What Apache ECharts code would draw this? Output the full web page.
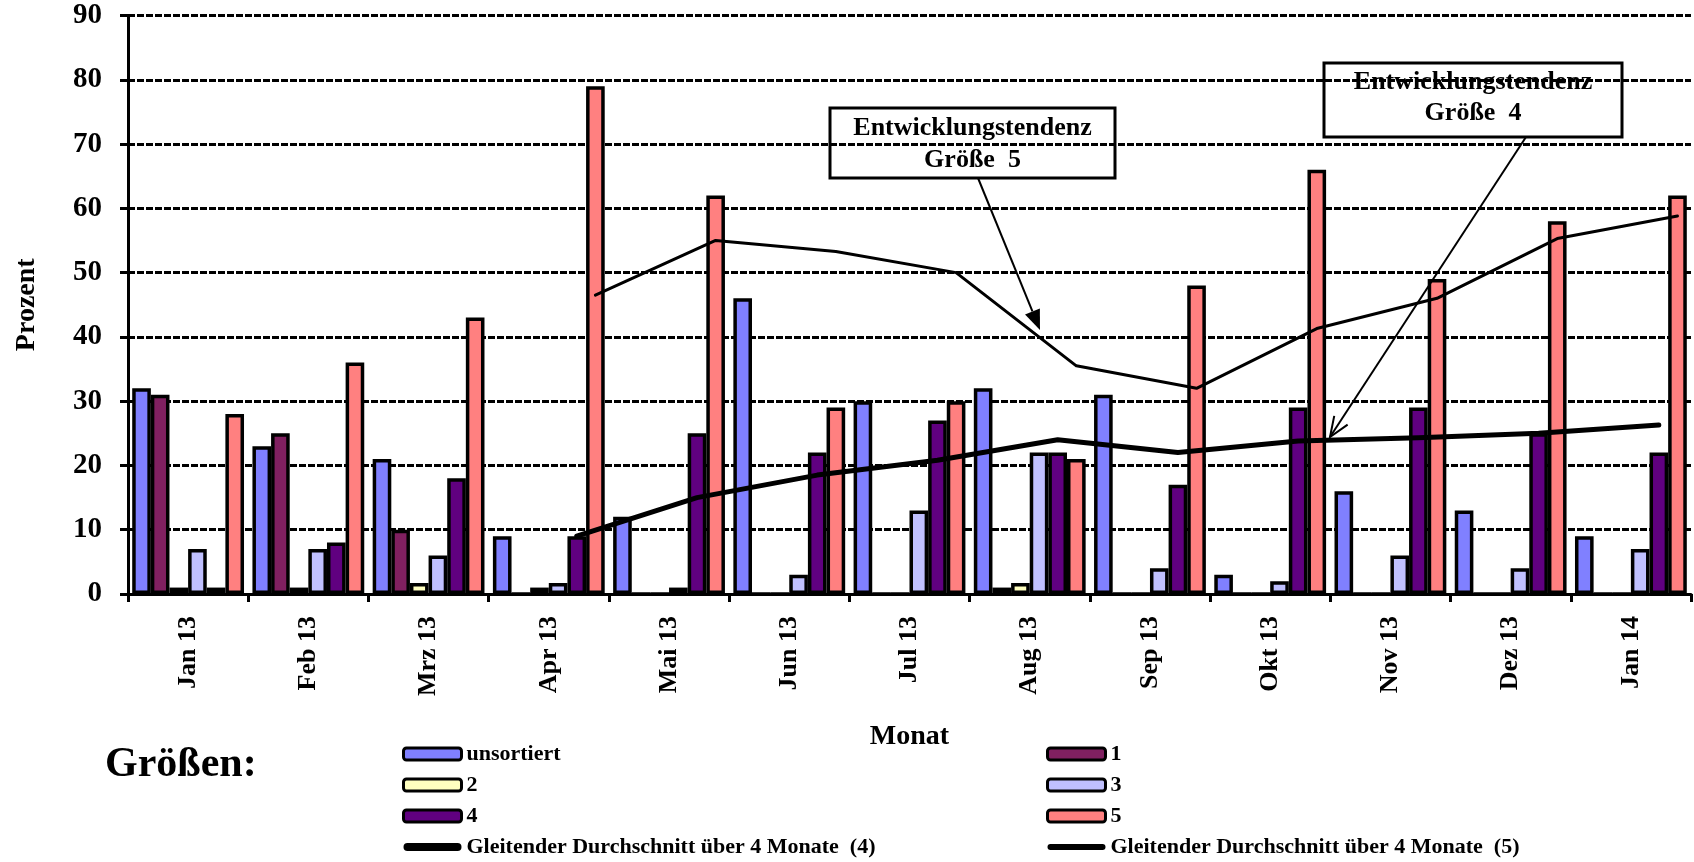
<!DOCTYPE html>
<html>
<head>
<meta charset="utf-8">
<script src="https://cdn.jsdelivr.net/npm/echarts@6/dist/echarts.min.js"></script>
<style>
html,body{margin:0;padding:0;background:#fff;}
#chart{width:1694px;height:862px;}
</style>
</head>
<body>
<div id="chart"></div>
<script>
// ---- data ----
const months = ['Jan 13','Feb 13','Mrz 13','Apr 13','Mai 13','Jun 13','Jul 13','Aug 13','Sep 13','Okt 13','Nov 13','Dez 13','Jan 14'];
const unsortiert = [32, 23, 21, 9, 12, 46, 30, 32, 31, 3, 16, 13, 9];
const groesse1   = [31, 25, 10, 0, 0, 0, 0, 1, 0, 0, 0, 0, 0];
const groesse2   = [1, 1, 1.7, 1, 0, 0, 0, 1.7, 0, 0, 0, 0, 0];
const groesse3   = [7, 7, 6, 1.7, 1, 3, 13, 22, 4, 2, 6, 4, 7];
const groesse4   = [1, 8, 18, 9, 25, 22, 27, 22, 17, 29, 29, 25, 22];
const groesse5   = [28, 36, 43, 79, 62, 29, 30, 21, 48, 66, 49, 58, 62];
const gleitend4  = [null, null, null, 9, 15, 18.5, 20.8, 24, 22, 23.8, 24.3, 25, 26.3];
const gleitend5  = [null, null, null, 46.5, 55, 53.3, 50, 35.5, 32, 41.3, 46, 55.3, 58.8];
const yTicks = {min: 0, max: 90, interval: 10};

const nameMA4 = 'Gleitender Durchschnitt über 4 Monate  (4)';
const nameMA5 = 'Gleitender Durchschnitt über 4 Monate  (5)';

// ---- layout ----
const FONT = "'Liberation Serif','Times New Roman',serif";
const plotLeft = 128, plotTop = 15.5, plotW = 1563, plotH = 578.5;
const catGap = 0.07;
const catW = plotW / months.length;
const barW = catW * (1 - catGap) / 6;
const off4 = 1.5 * barW;   // centre of the 5th bar of a group
const off5 = 2.5 * barW;   // centre of the 6th bar of a group

const colors = ['#8080FF', '#802060', '#FFFFC0', '#C0C0FF', '#600080', '#FF8080'];

function barSeries(name, data, color) {
  return {
    name: name, type: 'bar', data: data,
    xAxisIndex: 0, yAxisIndex: 0,
    barCategoryGap: (catGap * 100) + '%', barGap: '0%',
    itemStyle: {color: color, borderColor: '#000', borderWidth: 3.5},
    emphasis: {disabled: true}
  };
}

const hiddenX = (gi) => ({type: 'category', gridIndex: gi, data: months, show: false, boundaryGap: true});
const hiddenY = (gi) => ({type: 'value', gridIndex: gi, min: yTicks.min, max: yTicks.max, interval: yTicks.interval, show: false});

const chart = echarts.init(document.getElementById('chart'), null, {renderer: 'canvas'});

function arrowGraphics(x0, y0, x1, y1, filled) {
  const dx = x1 - x0, dy = y1 - y0, L = Math.hypot(dx, dy);
  const ux = dx / L, uy = dy / L, px = -uy, py = ux;
  const hl = 20, hw = 8;
  const bx = x1 - ux * hl, by = y1 - uy * hl;
  const out = [];
  out.push({type: 'line', shape: {x1: x0, y1: y0, x2: filled ? bx : x1, y2: filled ? by : y1},
            style: {stroke: '#000', lineWidth: 2}, z: 100});
  if (filled) {
    out.push({type: 'polygon', shape: {points: [[x1, y1], [bx + px * hw, by + py * hw], [bx - px * hw, by - py * hw]]},
              style: {fill: '#000'}, z: 100});
  } else {
    out.push({type: 'polyline', shape: {points: [[bx + px * hw, by + py * hw], [x1, y1], [bx - px * hw, by - py * hw]]},
              style: {stroke: '#000', lineWidth: 2, fill: null}, z: 100});
  }
  return out;
}

function barIcon(h) {
  const r = h / 2, w = 58;
  return 'path://M' + r + ',0 L' + (w - r) + ',0 A' + r + ',' + r + ' 0 0 1 ' + (w - r) + ',' + h +
         ' L' + r + ',' + h + ' A' + r + ',' + r + ' 0 0 1 ' + r + ',0 Z';
}

const legendBase = {
  orient: 'vertical', itemWidth: 58, itemHeight: 12, itemGap: 9, padding: 0,
  selectedMode: false,
  textStyle: {fontSize: 22, fontWeight: 'bold', fontFamily: FONT, color: '#000', lineHeight: 21},
  itemStyle: {borderColor: '#000', borderWidth: 3}
};

const option = {
  backgroundColor: '#fff',
  animation: false,
  textStyle: {fontFamily: FONT, fontWeight: 'bold', color: '#000'},
  grid: [
    {left: plotLeft, top: plotTop, width: plotW, height: plotH, outerBoundsMode: 'none', containLabel: false},
    {left: plotLeft + off4, top: plotTop, width: plotW, height: plotH, outerBoundsMode: 'none', containLabel: false},
    {left: plotLeft + off5, top: plotTop, width: plotW, height: plotH, outerBoundsMode: 'none', containLabel: false}
  ],
  xAxis: [
    {
      type: 'category', gridIndex: 0, data: months, boundaryGap: true,
      axisLine: {show: true, lineStyle: {color: '#000', width: 3}},
      axisTick: {show: true, length: 8, lineStyle: {color: '#000', width: 3}},
      axisLabel: {rotate: 90, fontSize: 26, fontWeight: 'bold', fontFamily: FONT, color: '#000', margin: 22},
      name: 'Monat', nameLocation: 'middle', nameGap: 129,
      nameTextStyle: {fontSize: 28, fontWeight: 'bold', fontFamily: FONT, color: '#000'}
    },
    hiddenX(1), hiddenX(2)
  ],
  yAxis: [
    {
      type: 'value', gridIndex: 0, min: yTicks.min, max: yTicks.max, interval: yTicks.interval,
      axisLine: {show: true, lineStyle: {color: '#000', width: 3}},
      axisTick: {show: true, length: 8, lineStyle: {color: '#000', width: 3}},
      axisLabel: {fontSize: 29, fontWeight: 'bold', fontFamily: FONT, color: '#000', margin: 26},
      splitLine: {show: true, lineStyle: {color: '#000', width: 3, type: [7, 2]}},
      name: 'Prozent', nameLocation: 'middle', nameGap: 87, nameRotate: 90,
      nameTextStyle: {fontSize: 28, fontWeight: 'bold', fontFamily: FONT, color: '#000'}
    },
    hiddenY(1), hiddenY(2)
  ],
  legend: [
    Object.assign({}, legendBase, {
      left: 402, top: 743,
      data: [
        {name: 'unsortiert', icon: 'roundRect'},
        {name: '2', icon: 'roundRect'},
        {name: '4', icon: 'roundRect'},
        {name: nameMA4, icon: barIcon(8), itemStyle: {color: '#000', borderWidth: 0}}
      ]
    }),
    Object.assign({}, legendBase, {
      left: 1046, top: 743,
      data: [
        {name: '1', icon: 'roundRect'},
        {name: '3', icon: 'roundRect'},
        {name: '5', icon: 'roundRect'},
        {name: nameMA5, icon: barIcon(6), itemStyle: {color: '#000', borderWidth: 0}}
      ]
    })
  ],
  series: [
    barSeries('unsortiert', unsortiert, colors[0]),
    barSeries('1', groesse1, colors[1]),
    barSeries('2', groesse2, colors[2]),
    barSeries('3', groesse3, colors[3]),
    barSeries('4', groesse4, colors[4]),
    barSeries('5', groesse5, colors[5]),
    {
      name: nameMA4, type: 'line', data: gleitend4, xAxisIndex: 1, yAxisIndex: 1,
      symbol: 'none', connectNulls: false, z: 5,
      itemStyle: {color: '#000'},
      lineStyle: {color: '#000', width: 5, cap: 'round', join: 'round'},
      emphasis: {disabled: true}
    },
    {
      name: nameMA5, type: 'line', data: gleitend5, xAxisIndex: 2, yAxisIndex: 2,
      symbol: 'none', connectNulls: false, z: 5,
      itemStyle: {color: '#000'},
      lineStyle: {color: '#000', width: 3, cap: 'round', join: 'round'},
      emphasis: {disabled: true}
    }
  ],
  graphic: [
    {type: 'text', left: 105, top: 744,
     style: {text: 'Größen:', font: "bold 42px 'Liberation Serif','Times New Roman',serif", fill: '#000'}},
    {type: 'rect', shape: {x: 830, y: 108, width: 285, height: 70},
     style: {fill: null, stroke: '#000', lineWidth: 3}, z: 100},
    {type: 'text', x: 972.5, y: 144,
     style: {text: 'Entwicklungstendenz\nGröße  5', font: "bold 26px 'Liberation Serif','Times New Roman',serif",
             fill: '#000', align: 'center', verticalAlign: 'middle', lineHeight: 32}, z: 100},
    {type: 'rect', shape: {x: 1324, y: 63, width: 298, height: 74},
     style: {fill: null, stroke: '#000', lineWidth: 3}, z: 100},
    {type: 'text', x: 1473, y: 98,
     style: {text: 'Entwicklungstendenz\nGröße  4', font: "bold 26px 'Liberation Serif','Times New Roman',serif",
             fill: '#000', align: 'center', verticalAlign: 'middle', lineHeight: 31}, z: 100}
  ].concat(arrowGraphics(978, 178, 1040, 330, true))
   .concat(arrowGraphics(1526, 137, 1330, 437, false))
};

chart.setOption(option);
</script>
</body>
</html>
